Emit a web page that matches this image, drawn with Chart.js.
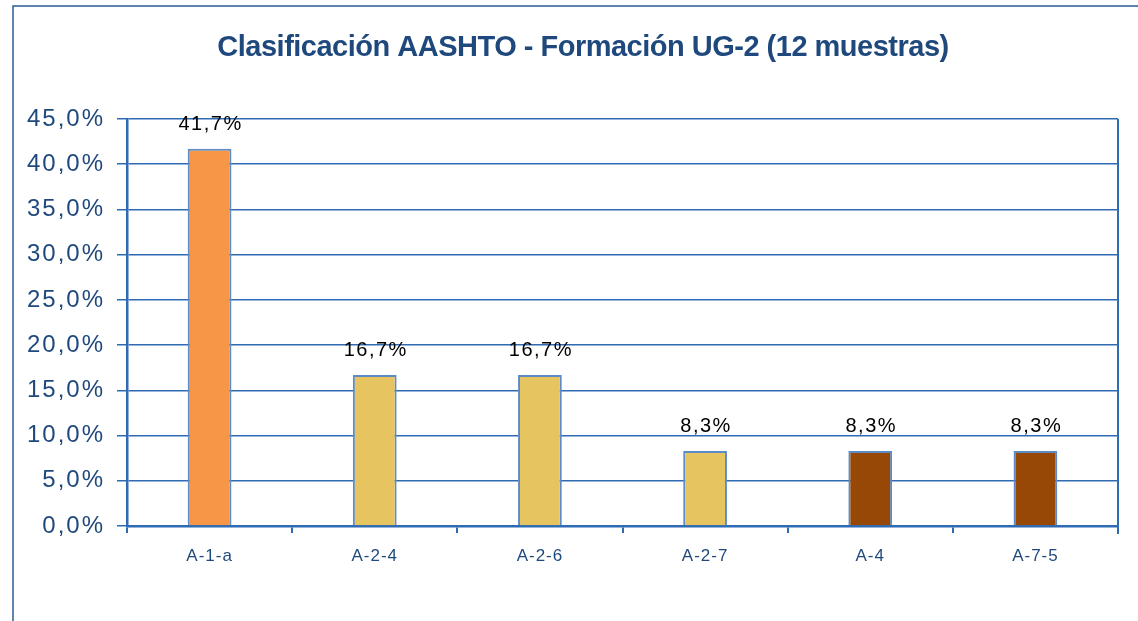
<!DOCTYPE html>
<html>
<head>
<meta charset="utf-8">
<script src="https://cdn.jsdelivr.net/npm/chart.js@4"></script>
<style>
  html, body { margin: 0; padding: 0; background: #ffffff; }
  #wrap { width: 1138px; height: 621px; position: relative; }
</style>
</head>
<body>
<div id="wrap"><canvas id="c" width="1138" height="621"></canvas></div>
<script>
const titleText = 'Clasificación AASHTO - Formación UG-2 (12 muestras)';
const categories = ['A-1-a', 'A-2-4', 'A-2-6', 'A-2-7', 'A-4', 'A-7-5'];
const values = [41.7, 16.7, 16.7, 8.3, 8.3, 8.3];
const barColors = ['#F79646', '#E6C45F', '#E6C45F', '#E6C45F', '#974706', '#974706'];
const yMax = 45;
const yStep = 5;

const BLUE = '#2F6BB3';
const DARK = '#1F497D';

function fmt(v) { return v.toFixed(1).replace('.', ',') + '%'; }

function patchSpacing(scale, spacing) {
  if (!scale || scale._lsPatched) return;
  const orig = scale.drawLabels.bind(scale);
  scale.drawLabels = function (area) {
    const c = this.ctx;
    const prev = c.letterSpacing;
    c.letterSpacing = spacing;
    orig(area);
    c.letterSpacing = prev;
  };
  scale._lsPatched = true;
}

const framePlugin = {
  id: 'frame',
  beforeDraw(chart) {
    const ctx = chart.ctx;
    ctx.save();
    ctx.fillStyle = '#ffffff';
    ctx.fillRect(0, 0, chart.width, chart.height);
    ctx.strokeStyle = '#2B5A94';
    ctx.lineWidth = 1.5;
    ctx.beginPath();
    ctx.moveTo(13, chart.height);
    ctx.lineTo(13, 6);
    ctx.lineTo(chart.width, 6);
    ctx.stroke();
    ctx.restore();
    patchSpacing(chart.scales.y, '2px');
    patchSpacing(chart.scales.x, '1px');
    const t = chart.titleBlock;
    if (t && !t._lsPatched) {
      const o = t.draw.bind(t);
      t.draw = function () {
        const c = this.ctx;
        c.save();
        c.translate(24, 0);
        c.letterSpacing = '-0.5px';
        o();
        c.restore();
      };
      t._lsPatched = true;
    }
  },
  afterDatasetsDraw(chart) {
    const ctx = chart.ctx;
    const a = chart.chartArea;
    ctx.save();
    ctx.strokeStyle = BLUE;
    ctx.lineWidth = 2;
    ctx.beginPath();
    ctx.moveTo(a.right, a.top);
    ctx.lineTo(a.right, a.bottom + 8);
    ctx.stroke();
    // data labels
    const meta = chart.getDatasetMeta(0);
    ctx.fillStyle = '#000000';
    ctx.font = '20px "Liberation Sans", Arial, sans-serif';
    ctx.letterSpacing = '1.5px';
    ctx.textAlign = 'center';
    ctx.textBaseline = 'middle';
    meta.data.forEach((bar, i) => {
      ctx.fillText(fmt(values[i]), bar.x + 1, bar.y - 24);
    });
    ctx.restore();
  }
};

new Chart(document.getElementById('c'), {
  type: 'bar',
  data: {
    labels: categories,
    datasets: [{
      data: values,
      backgroundColor: barColors,
      borderColor: '#5B8CC8',
      borderWidth: { left: 2, right: 2, top: 2, bottom: 0 },
      borderSkipped: 'bottom',
      categoryPercentage: 1.0,
      barPercentage: 0.265
    }]
  },
  options: {
    responsive: false,
    animation: false,
    devicePixelRatio: 1,
    layout: { padding: { left: 0, right: 20, top: 0, bottom: 0 } },
    plugins: {
      legend: { display: false },
      tooltip: { enabled: false },
      title: {
        display: true,
        text: titleText,
        color: DARK,
        font: { family: '"Liberation Sans", Arial, sans-serif', size: 29, weight: 'bold', lineHeight: 1.2 },
        padding: { top: 31, bottom: 53.2 }
      }
    },
    scales: {
      x: {
        afterFit(scale) { scale.height = 95; },
        grid: {
          display: true,
          drawOnChartArea: false,
          drawTicks: true,
          tickLength: 7,
          color: BLUE,
          lineWidth: 2,
          offset: true
        },
        border: { display: true, color: BLUE, width: 2.5 },
        ticks: {
          color: DARK,
          font: { family: '"Liberation Sans", Arial, sans-serif', size: 17 },
          padding: 13,
          maxRotation: 0
        }
      },
      y: {
        min: 0,
        max: yMax,
        afterFit(scale) { scale.width = 127; },
        grid: {
          color: BLUE,
          lineWidth: 1.5,
          tickLength: 10,
          drawTicks: true
        },
        border: { display: true, color: BLUE, width: 2.5 },
        ticks: {
          stepSize: yStep,
          color: DARK,
          font: { family: '"Liberation Sans", Arial, sans-serif', size: 24 },
          padding: 12,
          callback: (v) => fmt(v)
        }
      }
    }
  },
  plugins: [framePlugin]
});
</script>
</body>
</html>
